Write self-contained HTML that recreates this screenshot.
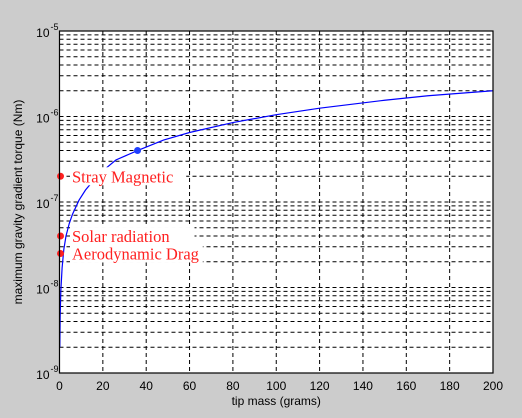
<!DOCTYPE html>
<html><head><meta charset="utf-8"><style>
body{margin:0;background:#cccccc;}
svg{display:block;font-family:"Liberation Sans",sans-serif;}
</style></head><body>
<svg id="chart" width="522" height="418">
<rect x="0" y="0" width="522" height="418" fill="#cccccc"/>
<g id="plot"></g>
</svg>
<script>
const xTicks=[0,20,40,60,80,100,120,140,160,180,200];
const yDecades=[-9,-8,-7,-6,-5];
const mass=[0.15,0.3,0.6,1.2,2,3,4.5,6,9,12,18,26,36,48,60,80,100,120,150,170,200];
const torque=[2e-9,4.5e-9,9e-9,1.7e-8,2.8e-8,4e-8,5.6e-8,7.2e-8,1.05e-7,1.38e-7,2.1e-7,3.1e-7,4e-7,5.3e-7,6.5e-7,8.5e-7,1.05e-6,1.25e-6,1.55e-6,1.75e-6,2e-6];
const markMass=[36];
const markTorque=[4e-7];
const labelNames=["Stray Magnetic","Solar radiation","Aerodynamic Drag"];
const labelTorque=[2e-7,4e-8,2.5e-8];
const L=59.5,R=493,T=31,B=373;
const sx=m=>L+(m-0)/(200-0)*(R-L);
const sy=v=>B-(Math.log10(v)+9)/4*(B-T);
const NS="http://www.w3.org/2000/svg";
const g=document.getElementById('plot');
function mk(t,a,p){const e=document.createElementNS(NS,t);for(const k in a)e.setAttribute(k,a[k]);(p||g).appendChild(e);return e;}
const bg=mk('rect',{x:L,y:T,width:R-L,height:B-T,fill:'#fff'});


for(let d=-9;d<-5;d++){for(let k=1;k<10;k++){const v=k*Math.pow(10,d);if(k==1&&d==-9)continue;const y=sy(v);
const ln=mk('line',{x1:L,x2:R,y1:y,y2:y,stroke:'#000','stroke-width':1,'stroke-dasharray':'4,3'});

}}
xTicks.forEach(t=>{const x=sx(t);if(t>0&&t<200){const ln=mk('line',{x1:x,x2:x,y1:T,y2:B,stroke:'#000','stroke-width':1,'stroke-dasharray':'4,3'});

}
const tx=mk('text',{x:x,y:B+17,'text-anchor':'middle','font-size':12,fill:'#000'});tx.textContent=t;

});
yDecades.forEach(d=>{const y=sy(Math.pow(10,d));
const tx=mk('text',{x:L-10,y:y+6,'text-anchor':'end','font-size':12,fill:'#000'});tx.textContent='10';


const sp=mk('text',{x:L-9,y:y-1,'font-size':9,fill:'#000'});sp.textContent=String(d);

});
const pts=mass.map((m,i)=>sx(m)+','+sy(torque[i])).join(' ');
const cv=mk('polyline',{points:pts,fill:'none',stroke:'#0000ff','stroke-width':1.2});


markMass.forEach((m,i)=>{const c=mk('circle',{cx:sx(m),cy:sy(markTorque[i]),r:3.5,fill:'#1f3fff'});

});
labelNames.forEach((n,i)=>{const y=sy(labelTorque[i]);
const c=mk('circle',{cx:L+1,cy:y,r:3.5,fill:'#ff2020'});


const w=n.length*8.3;
const r=mk('rect',{x:70,y:y-9,width:w,height:18,fill:'#fff'});


const tx=mk('text',{x:72,y:y+6,'font-size':16.5,fill:'#ff2020','font-family':'Liberation Serif,serif'});tx.textContent=n;

});
const fr=mk('rect',{x:L,y:T,width:R-L,height:B-T,fill:'none',stroke:'#000','stroke-width':1.2});


const xl=mk('text',{x:(L+R)/2,y:405,'text-anchor':'middle','font-size':12,fill:'#000'});xl.textContent='tip mass (grams)';


const yl=mk('text',{x:0,y:0,'text-anchor':'middle','font-size':12,fill:'#000',transform:'translate(22,'+((T+B)/2)+') rotate(-90)'});yl.textContent='maximum gravity gradient torque (Nm)';


</script>
</body></html>
